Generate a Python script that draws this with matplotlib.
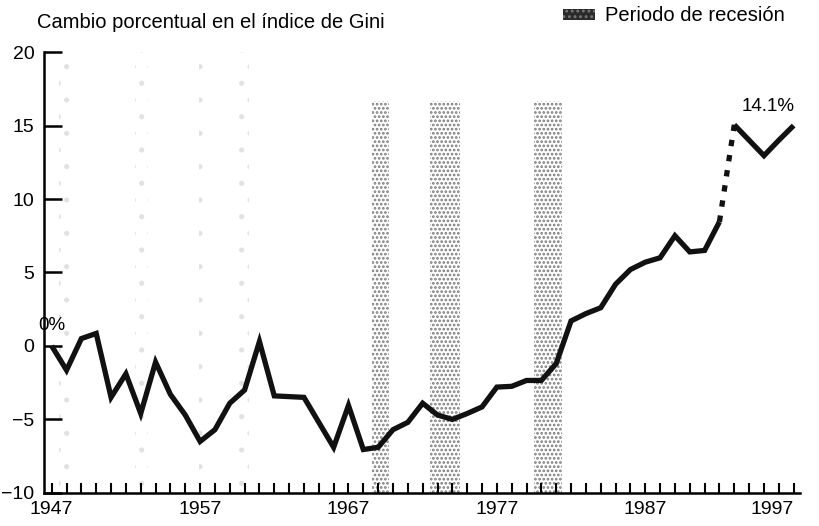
import matplotlib
matplotlib.use('Agg')
import matplotlib.pyplot as plt
from matplotlib.patches import Rectangle

plt.rcParams['font.family'] = ['Liberation Sans', 'DejaVu Sans']
plt.rcParams['hatch.linewidth'] = 1.3

# Data
years = list(range(1947, 1998))
gini_change = [
    0.0, -1.65, 0.5, 0.85, -3.5, -1.9, -4.6, -1.1, -3.3, -4.7,
    -6.5, -5.7, -3.9, -3.0, 0.3, -3.4, -3.45, -3.5, -5.2, -6.9,
    -4.05, -7.05, -6.9, -5.7, -5.2, -3.9, -4.7, -5.0, -4.6, -4.15,
    -2.8, -2.75, -2.35, -2.35, -1.2, 1.7, 2.2, 2.6, 4.2, 5.2,
    5.7, 6.0, 7.5, 6.4, 6.5, 8.45, 15.05, 14.0, 12.95, 14.0,
    15.0,
]
break_year = 1992   # dashed segment 1992 -> 1993 (series break)

# recession bands (start, end) as seen in the figure
strong_recessions = [(1968.6, 1969.7), (1972.5, 1974.5), (1979.5, 1981.4)]
faint_recessions = [(1947.5, 1948.2), (1952.6, 1953.5), (1956.9, 1957.4), (1959.6, 1960.3)]

x_major = [1947, 1957, 1967, 1977, 1987, 1997]
y_major = [-10, -5, 0, 5, 10, 15, 20]

fig = plt.figure(figsize=(8.2, 5.26), dpi=100)
ax = fig.add_axes([0.054, 0.063, 0.922, 0.838])

for s, e in faint_recessions:
    ax.axvspan(s, e, facecolor='none', edgecolor='#e2e2e2', hatch='.', lw=0, zorder=1)
for s, e in strong_recessions:
    ax.axvspan(s, e, ymax=0.89, facecolor='none', edgecolor='#7a7a7a', hatch='....', lw=0, zorder=1)

i = years.index(break_year)
ax.plot(years[:i + 1], gini_change[:i + 1], color='#111111', lw=3.8,
        solid_joinstyle='miter', solid_capstyle='butt', zorder=3)
ax.plot(years[i:i + 2], gini_change[i:i + 2], color='#111111', lw=3.8,
        dashes=(1.2, 1.7), zorder=3)
ax.plot(years[i + 1:], gini_change[i + 1:], color='#111111', lw=3.8,
        solid_joinstyle='miter', solid_capstyle='butt', zorder=3)

ax.text(1947.0, 1.4, '0%', fontsize=13.5, ha='center', va='center')
ax.text(1995.3, 16.3, '14.1%', fontsize=13.5, ha='center', va='center')

ax.set_xlim(1946.5, 1997.45)
ax.set_ylim(-10, 20)
ax.set_xticks(x_major)
ax.set_xticks(years, minor=True)
ax.set_yticks(y_major)
ax.set_yticklabels(['\u221210', '\u22125', '0', '5', '10', '15', '20'])
ax.tick_params(axis='x', which='both', direction='in', length=7, width=1.5,
               labelsize=14, pad=6)
ax.tick_params(axis='y', direction='in', length=13, width=1.8, labelsize=14, pad=7)
xl = ax.get_xticklabels()
xl[-1].set_ha('right')

for side in ['top', 'right']:
    ax.spines[side].set_visible(False)
for side in ['left', 'bottom']:
    ax.spines[side].set_linewidth(1.8)

fig.text(37 / 820, 1 - 28 / 526, 'Cambio porcentual en el \u00edndice de Gini',
         fontsize=14.5, va='baseline', ha='left')

# legend
fig.add_artist(Rectangle((563 / 820, 1 - 20 / 526), 32 / 820, 11 / 526,
                         transform=fig.transFigure, facecolor='#2a2a2a',
                         edgecolor='#777777', hatch='...', lw=0))
fig.text(605 / 820, 1 - 21 / 526, 'Periodo de recesi\u00f3n', fontsize=14.5,
         va='baseline', ha='left')

fig.savefig('out.png', dpi=100)
